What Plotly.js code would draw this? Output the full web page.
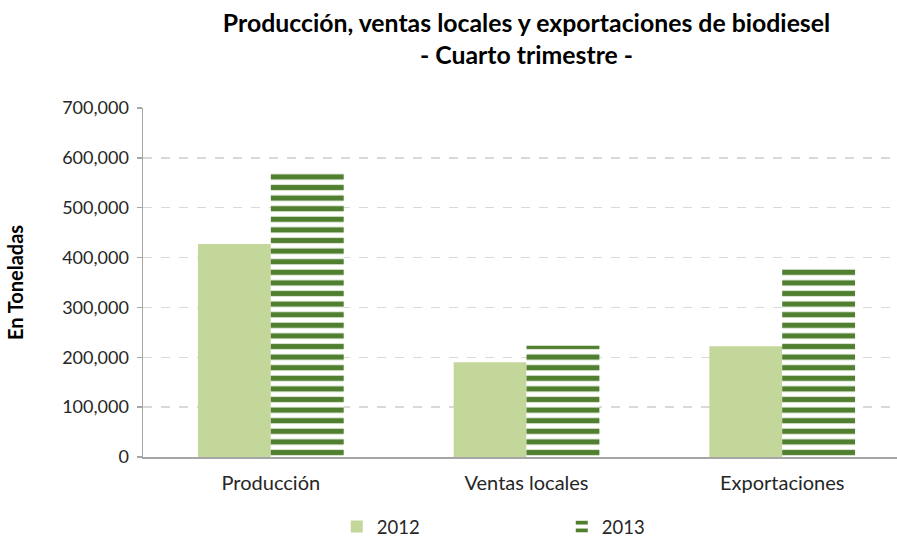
<!DOCTYPE html>
<html>
<head>
<meta charset="utf-8">
<script src="https://cdn.plot.ly/plotly-3.0.1.min.js"></script>
<style>html,body{margin:0;padding:0;background:#fff;}#chart{width:897px;height:537px;}</style>
</head>
<body>
<div id="chart"></div>
<script>
const categories = ["Producción", "Ventas locales", "Exportaciones"];
const values2012 = [427000, 190000, 222000];
const values2013 = [574000, 223000, 381000];
const seriesNames = ["2012", "2013"];
const yTickValues = [0, 100000, 200000, 300000, 400000, 500000, 600000, 700000];
const yTickLabels = ["0", "100,000", "200,000", "300,000", "400,000", "500,000", "600,000", "700,000"];

const FONT = "Lato, 'Open Sans', sans-serif";

const traces = [
  {
    type: "bar",
    name: seriesNames[0],
    x: categories,
    y: values2012,
    marker: { color: "#c4d79b", line: { width: 0 } },
    hoverinfo: "skip"
  },
  {
    type: "bar",
    name: seriesNames[1],
    x: categories,
    y: values2013,
    marker: {
      color: "#ffffff",
      line: { width: 0 },
      pattern: { shape: "-", fgcolor: "#4f7f2f", bgcolor: "#ffffff", size: 10.6, solidity: 0.5, fillmode: "replace" }
    },
    hoverinfo: "skip"
  }
];

const layout = {
  width: 897,
  height: 537,
  margin: { l: 143, r: 0, t: 108, b: 80, autoexpand: false },
  paper_bgcolor: "#ffffff",
  plot_bgcolor: "#ffffff",
  font: { family: FONT, color: "#262626", size: 16 },
  title: {
    text: "<b>Producción, ventas locales y exportaciones de biodiesel<br>- Cuarto trimestre -</b>",
    font: { family: FONT, size: 24.8, color: "#000000" },
    x: 0.587,
    xref: "container",
    xanchor: "center",
    yref: "container",
    y: 0.94,
    yanchor: "top"
  },
  barmode: "group",
  bargap: 0.43,
  bargroupgap: 0,
  xaxis: {
    type: "category",
    range: [-0.5, 2.449],
    showgrid: false,
    showline: true,
    linecolor: "#a6a6a6",
    linewidth: 1.5,
    ticks: "",
    ticklabelstandoff: 7,
    tickfont: { family: FONT, size: 20, color: "#262626" },
    fixedrange: true
  },
  yaxis: {
    range: [0, 700000],
    tickvals: yTickValues,
    ticktext: yTickLabels,
    showgrid: true,
    gridcolor: "#d9d9d9",
    gridwidth: 1.5,
    griddash: "dash",
    showline: true,
    linecolor: "#a6a6a6",
    linewidth: 1.5,
    ticks: "outside",
    ticklen: 5,
    tickcolor: "#a6a6a6",
    tickwidth: 1.5,
    ticklabelstandoff: 4,
    zeroline: false,
    tickfont: { family: FONT, size: 18, color: "#262626" },
    title: { text: "<b>En Toneladas</b>", font: { family: FONT, size: 20, color: "#000000" }, standoff: 33 },
    fixedrange: true
  },
  showlegend: true,
  legend: {
    orientation: "h",
    x: 0.257,
    xanchor: "left",
    yref: "container",
    y: 0.0186,
    yanchor: "middle",
    entrywidth: 180,
    entrywidthmode: "pixels",
    font: { family: FONT, size: 18.5, color: "#262626" },
    itemwidth: 30
  }
};

Plotly.newPlot("chart", traces, layout, { displayModeBar: false, staticPlot: true });
</script>
</body>
</html>
